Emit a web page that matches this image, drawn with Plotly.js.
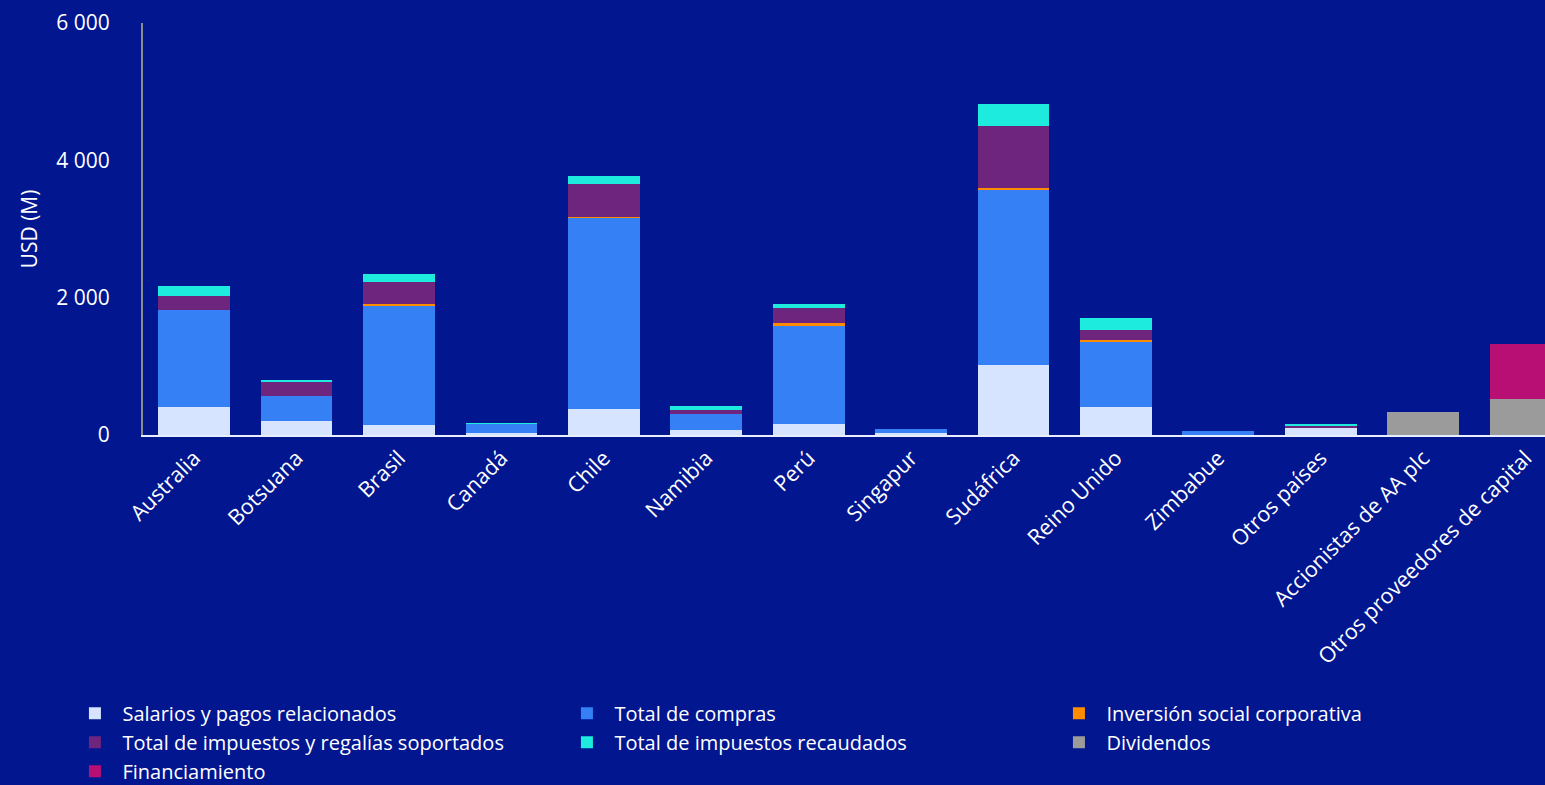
<!DOCTYPE html>
<html>
<head>
<meta charset="utf-8">
<script src="https://cdn.plot.ly/plotly-3.0.1.min.js"></script>
<style>
html,body{margin:0;padding:0;background:#021690;}
#chart{width:1545px;height:785px;}
</style>
</head>
<body>
<div id="chart"></div>
<script>
const categories = ["Australia","Botsuana","Brasil","Canadá","Chile","Namibia","Perú","Singapur","Sudáfrica","Reino Unido","Zimbabue","Otros países","Accionistas de AA plc","Otros proveedores de capital"];
const salarios      = [415, 207, 148, 32, 381, 66, 153, 36, 1026, 415, 5, 95, 0, 0];
const compras       = [1402, 354, 1732, 125, 2780, 233, 1431, 58, 2543, 936, 60, 0, 0, 0];
const inversion     = [0, 0, 23, 0, 20, 0, 54, 0, 23, 29, 0, 0, 0, 0];
const soportados    = [204, 208, 320, 0, 476, 63, 208, 0, 913, 146, 0, 33, 0, 0];
const recaudados    = [151, 25, 122, 25, 121, 54, 58, 0, 320, 175, 0, 25, 0, 0];
const dividendos    = [0, 0, 0, 0, 0, 0, 0, 0, 0, 0, 0, 0, 328, 531];
const financiamiento= [0, 0, 0, 0, 0, 0, 0, 0, 0, 0, 0, 0, 0, 790];
const yTickVals = [0, 2000, 4000, 6000];
const yTickText = ["0", "2 000", "4 000", "6 000"];

const series = [
  {name: "Salarios y pagos relacionados", y: salarios, color: "#D6E4FF"},
  {name: "Total de compras", y: compras, color: "#3580F5"},
  {name: "Inversión social corporativa", y: inversion, color: "#FF8C00"},
  {name: "Total de impuestos y regalías soportados", y: soportados, color: "#6E257E"},
  {name: "Total de impuestos recaudados", y: recaudados, color: "#1DEBDD"},
  {name: "Dividendos", y: dividendos, color: "#9B9B9B"},
  {name: "Financiamiento", y: financiamiento, color: "#B80F75"}
];

const traces = series.map(s => ({
  type: "bar",
  name: s.name,
  x: categories,
  y: s.y,
  marker: {color: s.color, line: {width: 0}},
  hoverinfo: "x+y+name"
}));

const font = "'Open Sans', 'Noto Sans', sans-serif";
const layout = {
  width: 1545, height: 785,
  paper_bgcolor: "#021690", plot_bgcolor: "#021690",
  barmode: "stack", bargap: 0.3,
  margin: {l: 143, r: 0, t: 23, b: 350, autoexpand: false},
  font: {family: font, color: "#FFFFFF", size: 21},
  xaxis: {
    range: [-0.5, 13.19],
    tickangle: -45,
    showline: true, linecolor: "#E8EEFF", linewidth: 2,
    showgrid: false, zeroline: false, ticks: "",
    tickfont: {family: font, size: 21.5, color: "#FFFFFF"}
  },
  yaxis: {
    range: [0, 6000],
    tickvals: yTickVals, ticktext: yTickText,
    showline: true, linecolor: "#8C8C8C", linewidth: 2,
    showgrid: false, zeroline: false, ticks: "",
    ticklabelstandoff: 27,
    tickfont: {family: font, size: 21, color: "#FFFFFF"},
    title: {text: "USD (M)", standoff: 13, font: {family: font, size: 21, color: "#FFFFFF"}}
  },
  legend: {
    orientation: "h",
    traceorder: "normal",
    xref: "paper", yref: "paper",
    x: -0.0539, y: -0.628, xanchor: "left", yanchor: "top",
    itemwidth: 45,
    entrywidth: 432, entrywidthmode: "pixels",
    tracegroupgap: 0,
    font: {family: font, size: 20, color: "#FFFFFF"},
    bgcolor: "rgba(0,0,0,0)"
  },
  showlegend: true
};

Plotly.newPlot("chart", traces, layout, {displayModeBar: false, staticPlot: true});
</script>
</body>
</html>
